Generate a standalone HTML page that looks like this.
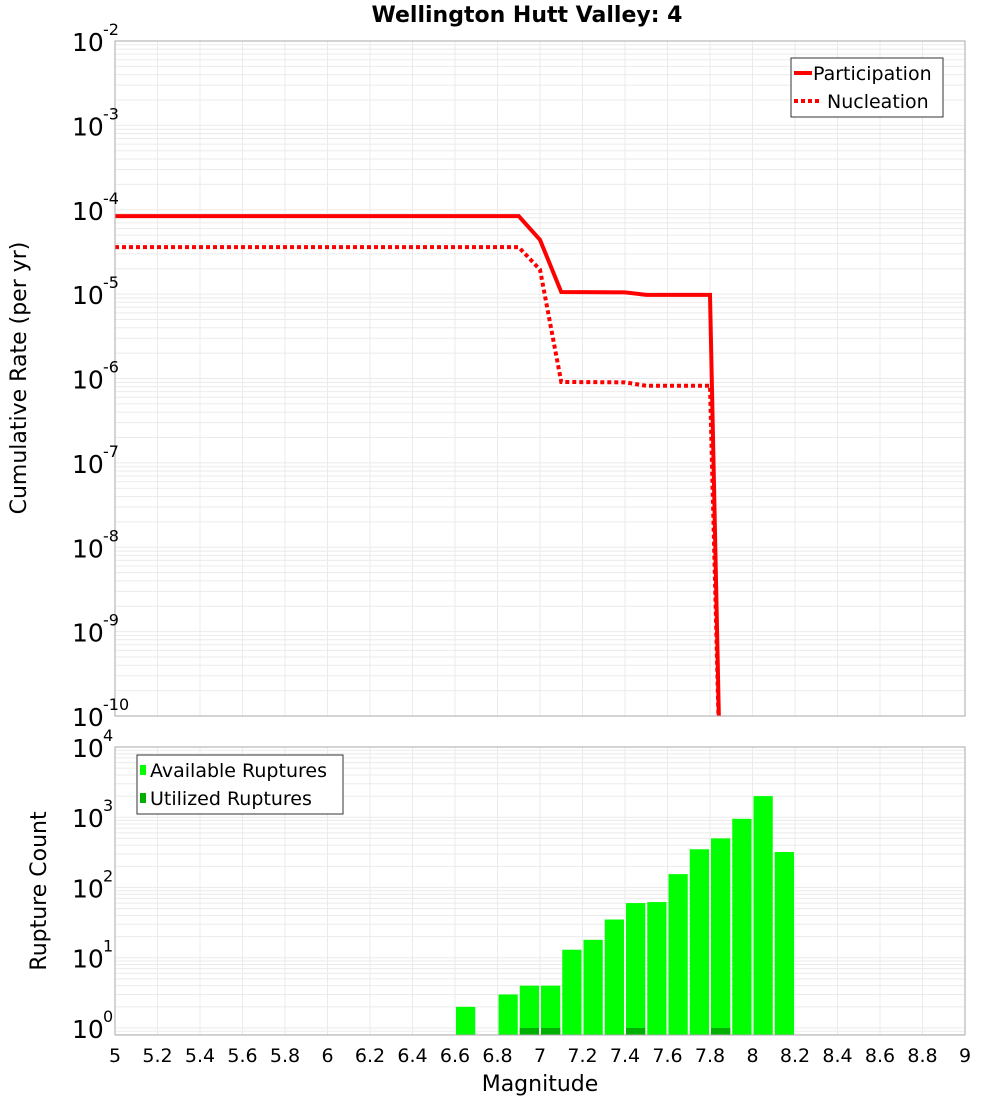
<!DOCTYPE html>
<html><head><meta charset="utf-8"><style>
body{margin:0;background:#fff;}
svg text{font-family:"DejaVu Sans","Liberation Sans",sans-serif;}
</style></head><body>
<svg id="c" width="1000" height="1100" xmlns="http://www.w3.org/2000/svg">
<rect width="1000" height="1100" fill="#fff"/>
<text x="527" y="22" font-size="22" font-weight="bold" text-anchor="middle">Wellington Hutt Valley: 4</text>
<g id="topPanel"></g><g id="botPanel"></g>
</svg>
<script>
const mags=[5,6.9,7.0,7.1,7.4,7.5,7.8,7.85];
const participation=[8.4e-5,8.4e-5,4.4e-5,1.06e-5,1.05e-5,9.8e-6,9.8e-6,1e-11];
const nucleation=[3.6e-5,3.6e-5,1.95e-5,9.1e-7,9e-7,8.2e-7,8.2e-7,1e-11];
const binCenters=[6.65,6.85,6.95,7.05,7.15,7.25,7.35,7.45,7.55,7.65,7.75,7.85,7.95,8.05,8.15];
const available=[2,3,4,4,13,18,35,60,62,155,350,500,950,2000,320];
const utilized=[0,0,1,1,0,0,0,1,0,0,0,1,0,0,0];
const xTicks=[5,5.2,5.4,5.6,5.8,6,6.2,6.4,6.6,6.8,7,7.2,7.4,7.6,7.8,8,8.2,8.4,8.6,8.8,9];
const topExps=[-2,-3,-4,-5,-6,-7,-8,-9,-10];
const botExps=[4,3,2,1,0];

const NS="http://www.w3.org/2000/svg";
const L=115,R=965;
const xs=m=>L+(m-5)/4*(R-L);
const T0=41,T1=716;
const yt=v=>T0+(-2-Math.log10(v))*(T1-T0)/8;
const B0=747,B1=1035;
const yb=v=>B0+(4-Math.log10(v))*(B1-B0)/4.1;
function el(tag,attrs,parent,txt){const e=document.createElementNS(NS,tag);for(const k in attrs)e.setAttribute(k,attrs[k]);if(txt!==undefined)e.textContent=txt;parent.appendChild(e);return e;}
const topG=document.getElementById('topPanel'),botG=document.getElementById('botPanel');

// top grid
el('rect',{x:L,y:T0,width:R-L,height:T1-T0,fill:'#fff'},topG);
for(let d=-10;d<-2;d++){for(let k=1;k<10;k++){const y=yt(k*Math.pow(10,d));const g=el('line',{x1:L,x2:R,y1:y,y2:y,stroke:'#ebebeb','stroke-width':1},topG);}}
xTicks.forEach(t=>{const x=xs(t);const g=el('line',{x1:x,x2:x,y1:T0,y2:T1,stroke:'#ebebeb','stroke-width':1},topG);});
const defs=el('defs',{},topG);const cp=el('clipPath',{id:'clipT'},defs);el('rect',{x:L,y:T0,width:R-L,height:T1-T0},cp);
function pts(arr){return mags.map((m,i)=>xs(m)+','+yt(arr[i])).join(' ');}
const pl=el('polyline',{points:pts(participation),fill:'none',stroke:'#ff0000','stroke-width':4,'clip-path':'url(#clipT)'},topG);


const nl=el('polyline',{points:pts(nucleation),fill:'none',stroke:'#ff0000','stroke-width':4,'stroke-dasharray':'4 3','clip-path':'url(#clipT)'},topG);


el('rect',{x:L,y:T0,width:R-L,height:T1-T0,fill:'none',stroke:'#aaa'},topG);
topExps.forEach(e=>{const y=yt(Math.pow(10,e));const g=el('g',{},topG);
el('text',{x:72,y:y+10,'font-size':25},g,'10');el('text',{x:103,y:y-6,'font-size':16},g,String(e));});
const yl=el('text',{x:26,y:378,'font-size':22,'text-anchor':'middle',transform:'rotate(-90 26 378)'},topG,'Cumulative Rate (per yr)');


const lg=el('g',{},topG);
el('rect',{x:791,y:58,width:152,height:59,fill:'#fff',stroke:'#333'},lg);
el('line',{x1:794,x2:812,y1:73,y2:73,stroke:'#f00','stroke-width':4},lg);
el('text',{x:813,y:80,'font-size':19},lg,'Participation');
el('line',{x1:794,x2:822,y1:101,y2:101,stroke:'#f00','stroke-width':4,'stroke-dasharray':'4 3'},lg);
el('text',{x:827,y:108,'font-size':19},lg,'Nucleation');

// bottom
for(let d=-1;d<4;d++){for(let k=1;k<10;k++){const v=k*Math.pow(10,d);const y=yb(v);if(y<B0||y>B1)continue;const g=el('line',{x1:L,x2:R,y1:y,y2:y,stroke:'#ebebeb','stroke-width':1},botG);}}
xTicks.forEach(t=>{const x=xs(t);const g=el('line',{x1:x,x2:x,y1:B0,y2:B1,stroke:'#ebebeb','stroke-width':1},botG);});
const bw=(R-L)/40;
binCenters.forEach((c,i)=>{const x=xs(c)-bw/2+1;const y=yb(available[i]);
const b=el('rect',{x:x,y:y,width:bw-2,height:B1-y,fill:'#00ff00'},botG);


if(utilized[i]>0){const yu=yb(utilized[i]);const u=el('rect',{x:x,y:yu,width:bw-2,height:Math.max(B1-yu,1),fill:'#00b000'},botG);

}
});
el('rect',{x:L,y:B0,width:R-L,height:B1-B0,fill:'none',stroke:'#aaa'},botG);
botExps.forEach(e=>{const y=yb(Math.pow(10,e));const g=el('g',{},botG);
el('text',{x:72,y:y+10,'font-size':25},g,'10');el('text',{x:103,y:y-6,'font-size':16},g,String(e));});
xTicks.forEach(t=>{const tx=el('text',{x:xs(t),y:1062,'font-size':19,'text-anchor':'middle'},botG,String(t));});
const xl=el('text',{x:540,y:1091,'font-size':22,'text-anchor':'middle'},botG,'Magnitude');


const yl2=el('text',{x:46,y:891,'font-size':22,'text-anchor':'middle',transform:'rotate(-90 46 891)'},botG,'Rupture Count');


const lb=el('g',{},botG);
el('rect',{x:137,y:755,width:206,height:59,fill:'#fff',stroke:'#333'},lb);
el('rect',{x:140,y:765,width:6,height:10,fill:'#00ff00'},lb);
el('text',{x:150,y:777,'font-size':19},lb,'Available Ruptures');
el('rect',{x:140,y:793,width:6,height:10,fill:'#00b000'},lb);
el('text',{x:150,y:805,'font-size':19},lb,'Utilized Ruptures');
</script>
</body></html>
